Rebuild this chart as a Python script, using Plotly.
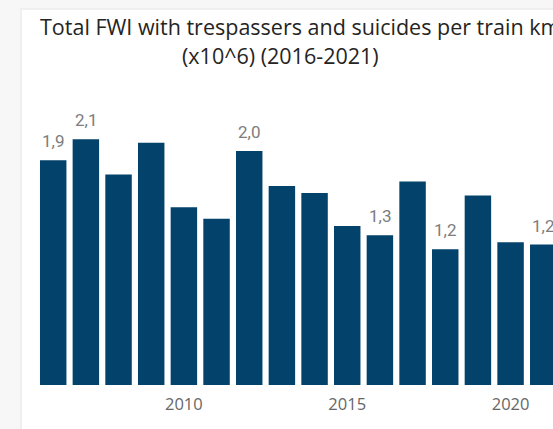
import plotly.graph_objects as go

# Total FWI (trespassers and suicides) per million train km, by year
years = [2006, 2007, 2008, 2009, 2010, 2011, 2012, 2013,
         2014, 2015, 2016, 2017, 2018, 2019, 2020, 2021]
fwi = [1.92, 2.10, 1.80, 2.07, 1.52, 1.42, 2.00, 1.70,
       1.64, 1.36, 1.28, 1.74, 1.16, 1.62, 1.22, 1.20]
# years whose bars carry a value label
labelled_years = [2006, 2007, 2012, 2016, 2018, 2021]
tick_years = [2010, 2015, 2020]

title_line1 = "Total FWI with trespassers and suicides per train km"
title_line2 = "(x10^6) (2016-2021)"

BAR = "#03426B"
W, H = 553, 429
ML, MR, MT, MB = 36, 0, 90, 44
PW, PH = W - ML - MR, H - MT - MB


def px_x(x):
    return (x - ML) / PW


def px_y(y):
    return (H - MB - y) / PH


fig = go.Figure(go.Bar(
    x=years, y=fwi, marker=dict(color=BAR, line=dict(width=0)),
    hoverinfo="skip",
))

# value labels above selected bars, comma decimal separator
for yr, v in zip(years, fwi):
    if yr in labelled_years:
        fig.add_annotation(
            x=yr, y=v, xref="x", yref="y", text=f"{v:.1f}".replace(".", ","),
            showarrow=False, yanchor="bottom", yshift=7,
            font=dict(family="Roboto", size=17, color="#7d7d7d"),
        )

fig.add_annotation(
    x=px_x(38), y=px_y(26), xref="paper", yref="paper", text=title_line1,
    xanchor="left", yanchor="middle", showarrow=False,
    font=dict(family="Open Sans", size=21.5, color="#252423"),
)
fig.add_annotation(
    x=px_x(280), y=px_y(55), xref="paper", yref="paper", text=title_line2,
    xanchor="center", yanchor="middle", showarrow=False,
    font=dict(family="Open Sans", size=21.5, color="#252423"),
)

# card on a light shadowed background
fig.add_shape(type="rect", xref="paper", yref="paper", layer="below",
              x0=px_x(20), x1=px_x(W + 5), y0=px_y(H + 5), y1=px_y(8),
              fillcolor="#efefef", line=dict(width=0))
fig.add_shape(type="rect", xref="paper", yref="paper", layer="below",
              x0=px_x(22), x1=px_x(W + 5), y0=px_y(H + 5), y1=px_y(10),
              fillcolor="#ffffff", line=dict(width=0))

fig.update_layout(
    width=W, height=H,
    margin=dict(l=ML, r=MR, t=MT, b=MB, pad=0),
    paper_bgcolor="#f7f7f7", plot_bgcolor="rgba(0,0,0,0)",
    showlegend=False, bargap=0.19,
    xaxis=dict(
        range=[2005.4735, 2021.2985], tickmode="array", tickvals=tick_years,
        ticktext=[str(t) for t in tick_years], showgrid=False, zeroline=False,
        showline=False, ticks="", fixedrange=True, ticklabelstandoff=7,
        tickfont=dict(family="Open Sans", size=16.5, color="#666666"),
    ),
    yaxis=dict(
        range=[0, PH / 117], visible=False, showgrid=False, fixedrange=True,
    ),
)

fig.write_html("out.html", config={"displayModeBar": False})
